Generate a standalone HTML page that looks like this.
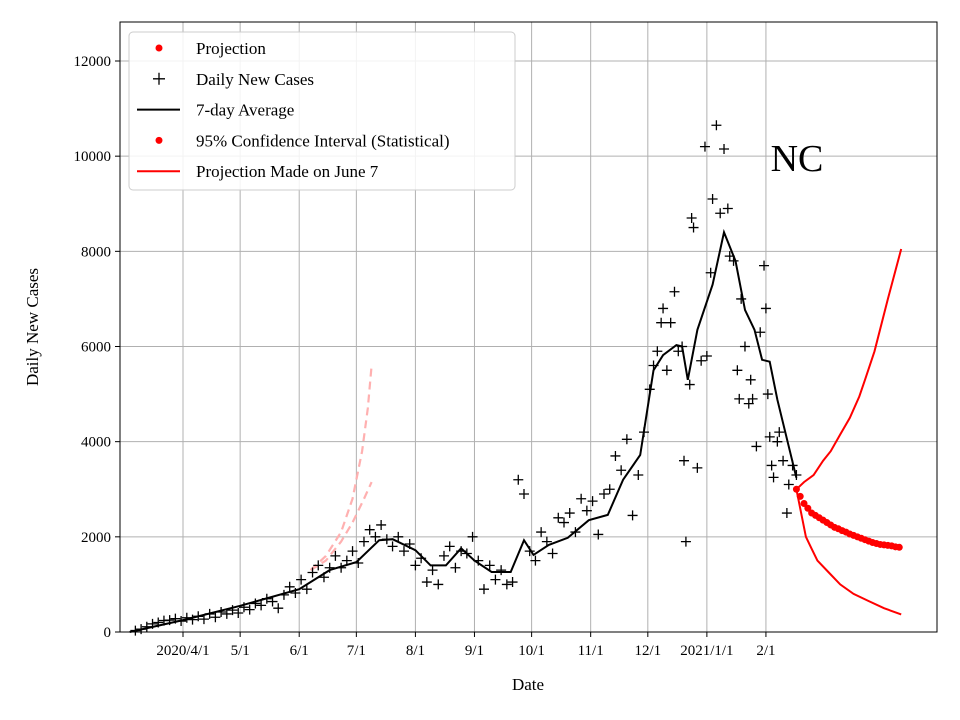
<!DOCTYPE html>
<html><head><meta charset="utf-8">
<style>
body{margin:0;background:#fff;}
svg{display:block;font-family:"Liberation Serif",serif;}
</style></head>
<body>
<svg id="chart" width="960" height="720"></svg>
<script>
const xTickLabels=["2020/4/1","5/1","6/1","7/1","8/1","9/1","10/1","11/1","12/1","2021/1/1","2/1"];
const xTickDays=[0,30,61,91,122,153,183,214,244,275,306];
const yTicks=[0,2000,4000,6000,8000,10000,12000];
const dailyStartDay=-25;
const dailyStep=3;
const dailyVals=[30,60,110,170,200,240,250,280,230,300,260,330,270,380,310,420,380,460,400,520,470,600,560,700,640,500,780,950,820,1100,900,1250,1400,1150,1350,1600,1350,1500,1700,1450,1900,2150,2000,2250,1950,1800,2000,1700,1850,1400,1550,1050,1300,1000,1600,1800,1350,1700,1650,2000,1500,900,1400,1100,1300,1000,1050,3200,2900,1700,1500,2100,1900,1650,2400,2300,2500,2100,2800,2550,2750,2050,2900,3000,3700,3400,4050,2450,3300,4200];
const lateDays=[245,247,249,251,252,254,256,258,260,262,263,264,266,267,268,270,272,274,275,277,278,280,282,284,286,287,289,291,292,293,295,297,298,299,301,303,305,306,307,308,309,310,312,313,315,317,318,320,322];
const lateVals=[5100,5600,5900,6500,6800,5500,6500,7150,5900,6000,3600,1900,5200,8700,8500,3450,5700,10200,5800,7550,9100,10650,8800,10150,8900,7900,7800,5500,4900,7000,6000,4800,5300,4900,3900,6300,7700,6800,5000,4100,3500,3250,4000,4200,3600,2500,3100,3500,3300];
const avgDayList=[-28,0,30,61,77,91,103,110,122,130,138,146,153,162,172,179,184,192,202,213,223,231,240,247,252,259,262,265,270,278,284,290,295,300,304,308,312,322];
const avgValList=[0,250,550,900,1300,1470,1930,1950,1720,1400,1400,1760,1500,1260,1260,1930,1620,1830,1980,2350,2460,3200,3720,5500,5820,6030,6000,5300,6350,7300,8400,7800,6770,6350,5720,5680,4880,3240];
const projStartDay=322;
const projStep=2;
const projVals=[3000,2850,2700,2600,2500,2450,2400,2350,2300,2250,2200,2170,2130,2100,2060,2030,2000,1970,1940,1910,1880,1860,1840,1830,1820,1810,1790,1780];
const upperDays=[322,326,331,336,340,345,350,355,358,363,370,377];
const upperVals=[3000,3150,3300,3600,3800,4150,4500,4950,5300,5900,7000,8050];
const lowerDays=[322,325,327,330,333,339,345,352,360,368,377];
const lowerVals=[3000,2400,2000,1750,1500,1250,1000,800,650,500,370];
const oldUpDays=[67,75,83,89,94,97,99];
const oldUpVals=[1300,1600,2100,2800,3800,4700,5600];
const oldLoDays=[67,75,83,89,95,99];
const oldLoVals=[1300,1500,1900,2300,2800,3150];

const NS="http://www.w3.org/2000/svg";
const svg=document.getElementById("chart");
const L=120,R=937,T=22,B=632;
const X=d=>183+d*1.905;
const Y=v=>B-v*(571/12000);
function mk(tag,attrs,parent){const e=document.createElementNS(NS,tag);for(const k in attrs)e.setAttribute(k,attrs[k]);(parent||svg).appendChild(e);return e;}

const grid=mk("g",{});


xTickDays.forEach((d,i)=>{
  mk("line",{x1:X(d),x2:X(d),y1:T,y2:B,stroke:"#b0b0b0","stroke-width":1},grid);
  mk("line",{x1:X(d),x2:X(d),y1:B,y2:B+5,stroke:"#000"},grid);
  const t=mk("text",{x:X(d),y:B+23,"text-anchor":"middle","font-size":15},grid);
  t.textContent=xTickLabels[i];
  
  
});
yTicks.forEach(v=>{
  mk("line",{x1:L,x2:R,y1:Y(v),y2:Y(v),stroke:"#b0b0b0","stroke-width":1},grid);
  mk("line",{x1:L-5,x2:L,y1:Y(v),y2:Y(v),stroke:"#000"},grid);
  const t=mk("text",{x:L-9,y:Y(v)+5,"text-anchor":"end","font-size":15},grid);
  t.textContent=v;
  
  
});

function pathOf(ds,vs){return ds.map((d,i)=>(i?"L":"M")+X(d).toFixed(1)+","+Y(vs[i]).toFixed(1)).join("");}

const p1=mk("path",{d:pathOf(oldUpDays,oldUpVals),fill:"none",stroke:"#ffb0b0","stroke-width":2.2,"stroke-dasharray":"8,5"});


const p2=mk("path",{d:pathOf(oldLoDays,oldLoVals),fill:"none",stroke:"#ffb0b0","stroke-width":2.2,"stroke-dasharray":"8,5"});



const sc=mk("g",{stroke:"#000","stroke-width":1.3});


function plus(d,v){const x=X(d),y=Y(v);mk("path",{d:`M${x-5},${y}H${x+5}M${x},${y-5}V${y+5}`},sc);}
dailyVals.forEach((v,i)=>plus(dailyStartDay+i*dailyStep,v));
lateVals.forEach((v,i)=>plus(lateDays[i],v));

const av=mk("path",{d:pathOf(avgDayList,avgValList),fill:"none",stroke:"#000","stroke-width":2});



const up=mk("path",{d:pathOf(upperDays,upperVals),fill:"none",stroke:"red","stroke-width":2});


const lo=mk("path",{d:pathOf(lowerDays,lowerVals),fill:"none",stroke:"red","stroke-width":2});



const pg=mk("g",{fill:"red"});


projVals.forEach((v,i)=>mk("circle",{cx:X(projStartDay+i*projStep),cy:Y(v),r:3.5},pg));

const frame=mk("rect",{x:L,y:T,width:R-L,height:B-T,fill:"none",stroke:"#000","stroke-width":1});



const nc=mk("text",{x:797,y:171,"text-anchor":"middle","font-size":38});
nc.textContent="NC";



const xl=mk("text",{x:528,y:690,"text-anchor":"middle","font-size":17});
xl.textContent="Date";


const yl=mk("text",{x:38,y:327,"text-anchor":"middle","font-size":17,transform:"rotate(-90 38 327)"});
yl.textContent="Daily New Cases";



const lg=mk("g",{});


mk("rect",{x:129,y:32,width:386,height:158,rx:4,fill:"#fff","fill-opacity":0.85,stroke:"#ccc"},lg);
const entries=["Projection","Daily New Cases","7-day Average","95% Confidence Interval (Statistical)","Projection Made on June 7"];
entries.forEach((s,i)=>{
  const y=48+i*30.8;
  if(i==0||i==3) mk("circle",{cx:159,cy:y,r:3.5,fill:"red"},lg);
  if(i==1) mk("path",{d:`M153,${y}H165M159,${y-6}V${y+6}`,stroke:"#000","stroke-width":1.3},lg);
  if(i==2) mk("line",{x1:137,x2:180,y1:y,y2:y,stroke:"#000","stroke-width":2},lg);
  if(i==4) mk("line",{x1:137,x2:180,y1:y,y2:y,stroke:"red","stroke-width":2},lg);
  const t=mk("text",{x:196,y:y+6,"font-size":17},lg);
  t.textContent=s;
  
  
});
</script>
</body></html>
